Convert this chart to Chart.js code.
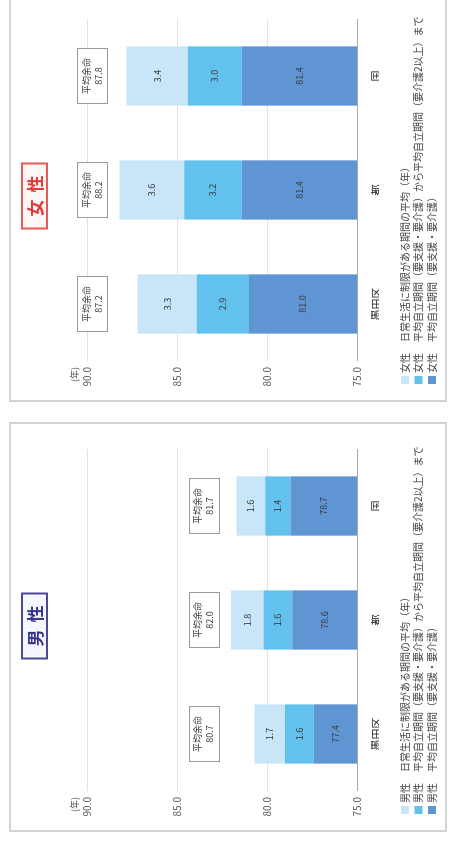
<!DOCTYPE html>
<html lang="ja">
<head>
<meta charset="utf-8">
<title>平均自立期間と平均余命</title>
<script src="https://cdn.jsdelivr.net/npm/chart.js@4.4.1/dist/chart.umd.min.js"></script>
<style>
  html, body { margin: 0; padding: 0; background: #fff; width: 450px; height: 850px; overflow: hidden; }
  /* the two panels are laid out side by side, then the sheet is turned a quarter to the left */
  #sheet {
    position: absolute; left: 0; top: 0; width: 850px; height: 450px;
    transform-origin: 0 0; transform: translateY(850px) rotate(-90deg);
    background: #fff;
  }
  .panel { position: absolute; top: 9px; width: 410px; height: 438px; }
  .panel canvas { position: absolute; left: 0; top: 0; }
  .frame { position: absolute; left: 0; top: 0; right: 0; bottom: 0; border: 2px solid #d3d3d3; box-sizing: border-box; pointer-events: none; }
  .badge {
    position: absolute; top: 12px; left: 206px; transform: translateX(-50%);
    font: bold 17px "Noto Sans CJK JP", sans-serif; letter-spacing: 7px;
    padding: 1px 4px 1px 11px; border: 2px solid; line-height: 21px; white-space: nowrap;
  }
  .badge.male { color: #35358c; border-color: #4a4a96; background: #f7f7ff; }
  .badge.female { color: #e23a3a; border-color: #e65a5a; background: #fff6f6; }
</style>
</head>
<body>
<div id="sheet">
  <div class="panel" style="left:18px">
    <canvas id="maleChart" width="410" height="438"></canvas>
    <div class="frame"></div>
    <div class="badge male">男性</div>
  </div>
  <div class="panel" style="left:448px">
    <canvas id="femaleChart" width="410" height="438"></canvas>
    <div class="frame"></div>
    <div class="badge female">女性</div>
  </div>
</div>
<script>
// ---- data ----
const categories = ['墨田区', '都', '国'];

const maleIndependent      = [77.4, 78.6, 78.7];   // 平均自立期間(要支援・要介護)
const maleSupportToCare2   = [1.6, 1.6, 1.4];      // 要支援・要介護 → 要介護2以上
const maleLimited          = [1.7, 1.8, 1.6];      // 日常生活に制限がある期間
const maleLifeExpectancy   = [80.7, 82.0, 81.7];   // 平均余命

const femaleIndependent    = [81.0, 81.4, 81.4];
const femaleSupportToCare2 = [2.9, 3.2, 3.0];
const femaleLimited        = [3.3, 3.6, 3.4];
const femaleLifeExpectancy = [87.2, 88.2, 87.8];

const yTicks = [75, 80, 85, 90];

const seriesNames = [
  '日常生活に制限がある期間の平均（年）',
  '平均自立期間（要支援・要介護）から平均自立期間（要介護2以上）まで',
  '平均自立期間（要支援・要介護）'
];

// ---- styling ----
const FONT = '"Noto Sans CJK JP", "Noto Sans", sans-serif';
const COLOR_DARK  = '#5f95d3';
const COLOR_MID   = '#63c1ee';
const COLOR_LIGHT = '#c8e6f7';

Chart.defaults.font.family = FONT;

// values written in the middle of each visible bar segment
const segmentLabels = {
  id: 'segmentLabels',
  afterDatasetsDraw(chart) {
    const { ctx, chartArea } = chart;
    ctx.save();
    ctx.font = '9px ' + FONT;
    ctx.fillStyle = '#3c3c3c';
    ctx.textAlign = 'center';
    ctx.textBaseline = 'middle';
    chart.data.datasets.forEach((ds, di) => {
      chart.getDatasetMeta(di).data.forEach((bar, i) => {
        const { x, y, base } = bar.getProps(['x', 'y', 'base'], true);
        const bottom = Math.min(base, chartArea.bottom);
        ctx.fillText(ds.data[i].toFixed(1), x, (y + bottom) / 2);
      });
    });
    ctx.restore();
  }
};

// 平均余命 boxes, one above each bar, all on one line above the tallest bar
const lifeBoxes = {
  id: 'lifeBoxes',
  afterDraw(chart, args, opts) {
    const { ctx } = chart;
    const yScale = chart.scales.y;
    const values = opts.values;
    const bottom = yScale.getPixelForValue(Math.max(...values)) - 12;
    const h = 30;
    const top = bottom - h;
    const meta = chart.getDatasetMeta(0);
    ctx.save();
    meta.data.forEach((bar, i) => {
      const { x, width } = bar.getProps(['x', 'width'], true);
      const w = width - 4;
      ctx.fillStyle = '#fff';
      ctx.fillRect(x - w / 2, top, w, h);
      ctx.strokeStyle = '#9a9a9a';
      ctx.lineWidth = 1;
      ctx.strokeRect(Math.round(x - w / 2) + 0.5, Math.round(top) + 0.5, Math.round(w), h);
      ctx.fillStyle = '#404040';
      ctx.font = '9px ' + FONT;
      ctx.textAlign = 'center';
      ctx.textBaseline = 'middle';
      ctx.fillText('平均余命', x, top + 9);
      ctx.fillText(values[i].toFixed(1), x, top + 21);
    });
    ctx.restore();
  }
};

// "(年)" over the value axis
const unitLabel = {
  id: 'unitLabel',
  afterDraw(chart) {
    const { ctx } = chart;
    const yScale = chart.scales.y;
    ctx.save();
    ctx.font = '9px ' + FONT;
    ctx.fillStyle = '#555';
    ctx.textAlign = 'right';
    ctx.textBaseline = 'middle';
    ctx.fillText('(年)', yScale.right - 6, yScale.top - 12);
    ctx.restore();
  }
};

// legend block under the chart: colour square, sex, series name
const legendBlock = {
  id: 'legendBlock',
  afterDraw(chart, args, opts) {
    const { ctx } = chart;
    const items = [
      { color: COLOR_LIGHT, text: seriesNames[0] },
      { color: COLOR_MID,   text: seriesNames[1] },
      { color: COLOR_DARK,  text: seriesNames[2] }
    ];
    ctx.save();
    ctx.font = '10px ' + FONT;
    ctx.fillStyle = '#444';
    ctx.textBaseline = 'middle';
    items.forEach((it, k) => {
      const y = 396 + k * 13.5;
      ctx.fillStyle = it.color;
      ctx.fillRect(18, y - 4, 8, 8);
      ctx.fillStyle = '#444';
      ctx.textAlign = 'left';
      ctx.fillText(opts.sex, 29, y);
      ctx.fillText(it.text, 60, y);
    });
    ctx.restore();
  }
};

function buildChart(id, sex, independent, support, limited, lifeExp) {
  return new Chart(document.getElementById(id), {
    type: 'bar',
    data: {
      labels: categories,
      datasets: [
        { label: sex + seriesNames[2], data: independent, backgroundColor: COLOR_DARK },
        { label: sex + seriesNames[1], data: support,     backgroundColor: COLOR_MID },
        { label: sex + seriesNames[0], data: limited,     backgroundColor: COLOR_LIGHT }
      ]
    },
    options: {
      responsive: false,
      animation: false,
      devicePixelRatio: 1,
      layout: { padding: { top: 78, right: 27, bottom: 68, left: 0 } },
      datasets: { bar: { barPercentage: 0.52, categoryPercentage: 1, borderWidth: 0, clip: 0 } },
      scales: {
        x: {
          stacked: true,
          grid: { display: false },
          border: { display: false },
          ticks: { padding: 5, color: '#222', font: { size: 11 } },
          afterFit(s) { s.height = 22; }
        },
        y: {
          stacked: true,
          min: yTicks[0],
          max: yTicks[yTicks.length - 1],
          afterBuildTicks(s) { s.ticks = yTicks.map(v => ({ value: v })); },
          ticks: { padding: 6, color: '#555', font: { size: 10 }, callback: v => Number(v).toFixed(1) },
          grid: {
            drawTicks: false,
            lineWidth: 1,
            color: c => (c.tick && c.tick.value === yTicks[0]) ? '#a9a9a9' : '#e2e2e2'
          },
          border: { display: false },
          afterFit(s) { s.width = 41; }
        }
      },
      plugins: {
        legend: { display: false },
        tooltip: { enabled: false },
        lifeBoxes: { values: lifeExp },
        legendBlock: { sex: sex }
      }
    },
    plugins: [segmentLabels, lifeBoxes, unitLabel, legendBlock]
  });
}

buildChart('maleChart', '男性', maleIndependent, maleSupportToCare2, maleLimited, maleLifeExpectancy);
buildChart('femaleChart', '女性', femaleIndependent, femaleSupportToCare2, femaleLimited, femaleLifeExpectancy);
</script>
</body>
</html>
